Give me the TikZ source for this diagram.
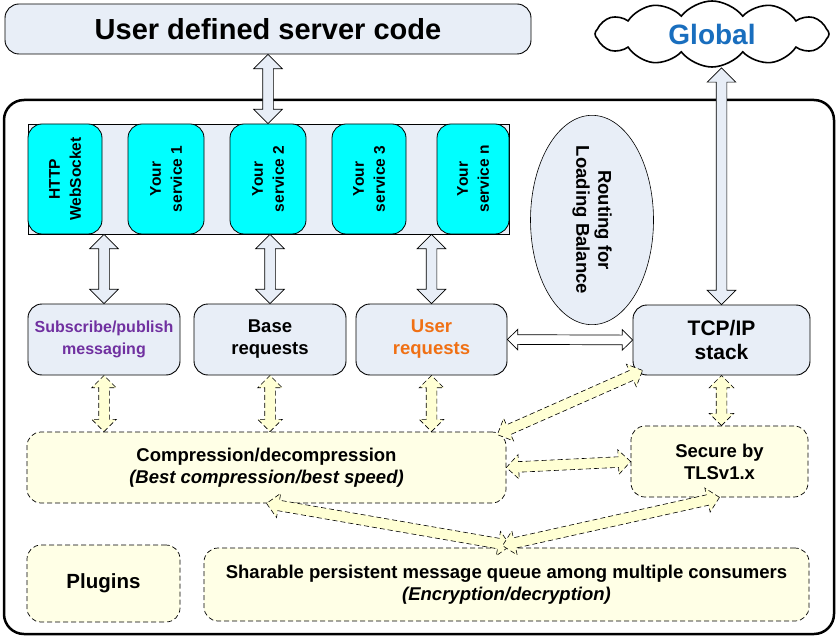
\documentclass[tikz,border=0pt]{standalone}
\usepackage{fontspec}
\setmainfont{Liberation Sans}
\usetikzlibrary{shapes.geometric,shapes.symbols,shapes.arrows,calc}
\definecolor{boxblue}{RGB}{232,238,247}
\definecolor{svccyan}{RGB}{0,255,255}
\definecolor{paleyellow}{RGB}{255,255,230}
\definecolor{arrowyellow}{RGB}{255,255,212}
\definecolor{subpurple}{RGB}{112,48,160}
\definecolor{userorange}{RGB}{240,112,20}
\definecolor{globalblue}{RGB}{25,110,190}
\newcommand{\fatarrow}[3][]{%
  \path let \p1=($(#3)-(#2)$), \n1={veclen(\x1,\y1)}, \n2={atan2(\y1,\x1)} in
    node[#1, minimum height=\n1, rotate=\n2] at ($(#2)!0.5!(#3)$) {};}
\begin{document}
\begin{tikzpicture}
    [x=1pt,y=-1pt,
     every node/.style={align=center,inner sep=0pt},
     bluebox/.style={draw,line width=0.9pt,rounded corners=14pt,fill=boxblue},
     svcbox/.style={draw,line width=0.8pt,rounded corners=14pt,fill=svccyan,rotate=90,minimum width=110pt,
                    font=\bfseries\fontsize{15.5}{21}\selectfont},
     yellowbox/.style={draw,line width=0.7pt,dash pattern=on 5pt off 3pt,rounded corners=14pt,fill=paleyellow},
     midtext/.style={font=\bfseries\fontsize{18.5}{22}\selectfont},
     solidarrow/.style={double arrow,draw,line width=0.7pt,fill=boxblue,inner sep=5pt,
                        double arrow head extend=9pt,double arrow tip angle=90},
     dasharrow/.style={double arrow,draw,line width=0.6pt,dash pattern=on 5pt off 3pt,fill=arrowyellow,
                       inner sep=5pt,double arrow head extend=7pt,double arrow tip angle=90}]
    \useasboundingbox (0,0) rectangle (837,636);

    \node[bluebox,minimum width=526pt,minimum height=50pt,font=\bfseries\fontsize{29}{32}\selectfont]
        (server) at (268,29) {User defined server code};
    \node[cloud,draw,line width=1.6pt,fill=white,cloud puffs=12,cloud puff arc=105,cloud ignores aspect,
          inner sep=4pt,minimum width=234pt,minimum height=66pt,
          text=globalblue,font=\bfseries\fontsize{28}{30}\selectfont] (global) at (712,34) {Global};

    \draw[line width=2.5pt,rounded corners=20pt] (4,100) rectangle (834,634);

    \node[draw,line width=0.8pt,fill=boxblue,minimum width=481pt,minimum height=110pt] (band) at (268.5,179) {};
    \node[svcbox,minimum height=74pt] (http) at (65,179)  {HTTP\\WebSocket};
    \node[svcbox,minimum height=76pt] (svc1) at (166,179) {Your\\service 1};
    \node[svcbox,minimum height=76pt] (svc2) at (268,179) {Your\\service 2};
    \node[svcbox,minimum height=74pt] (svc3) at (369,179) {Your\\service 3};
    \node[svcbox,minimum height=72pt] (svcn) at (473,179) {Your\\service n};
    \node[ellipse,draw,line width=0.6pt,fill=boxblue,rotate=-90,minimum width=193pt,minimum height=123pt,midtext]
        (routing) at (592,220) {Routing for\\Loading Balance};

    \node[bluebox,minimum width=152pt,minimum height=71pt,text=subpurple,font=\bfseries\fontsize{16}{21.5}\selectfont]
        (subpub) at (104,339.5) {Subscribe/publish\\messaging};
    \node[bluebox,minimum width=152pt,minimum height=71pt,midtext] (base) at (270,339.5) {Base\\requests};
    \node[bluebox,minimum width=151pt,minimum height=71pt,midtext,text=userorange] (user) at (431.5,339.5) {User\\requests};
    \node[bluebox,minimum width=177pt,minimum height=70pt,font=\bfseries\fontsize{21}{24}\selectfont]
        (tcp) at (721.5,340) {TCP/IP\\stack};

    \node[yellowbox,minimum width=479pt,minimum height=71pt,midtext] (comp) at (266.5,467.5)
        {Compression/decompression\\\textit{(Best compression/best speed)}};
    \node[yellowbox,minimum width=177pt,minimum height=71pt,midtext] (secure) at (719.5,461.5) {Secure by\\TLSv1.x};
    \node[yellowbox,minimum width=153pt,minimum height=77pt,font=\bfseries\fontsize{20.5}{24}\selectfont]
        (plugins) at (103.5,583.5) {Plugins};
    \node[yellowbox,minimum width=605pt,minimum height=73pt,midtext] (queue) at (506.5,584.5)
        {Sharable persistent message queue among multiple consumers\\\textit{(Encryption/decryption)}};

    \coordinate (compcorner) at ($(comp.north east)+(-9,3)$);
    \coordinate (tcpcorner) at ($(tcp.south west)+(10,-5)$);
    \coordinate (queueleft) at ($(queue.north)+(4,-2)$);
    \coordinate (queueright) at ($(queue.north)+(-4,-2)$);

    \fatarrow[solidarrow]{server.south}{server.south |- band.north}
    \fatarrow[solidarrow]{subpub.north}{subpub.north |- band.south}
    \fatarrow[solidarrow]{base.north}{base.north |- band.south}
    \fatarrow[solidarrow]{user.north}{user.north |- band.south}
    \fatarrow[solidarrow]{tcp.north}{tcp.north |- global.south}
    \fatarrow[solidarrow,fill=white,inner sep=4.5pt,double arrow head extend=5.5pt]{user.east}{tcp.west}

    \fatarrow[dasharrow]{subpub.south}{subpub.south |- comp.north}
    \fatarrow[dasharrow]{base.south}{base.south |- comp.north}
    \fatarrow[dasharrow]{user.south}{user.south |- comp.north}
    \fatarrow[dasharrow]{tcp.south}{tcp.south |- secure.north}
    \fatarrow[dasharrow]{compcorner}{tcpcorner}
    \fatarrow[dasharrow]{comp.east}{secure.west}
    \fatarrow[dasharrow]{queueleft}{comp.south}
    \fatarrow[dasharrow]{queueright}{secure.south}
  \end{tikzpicture}
\end{document}
